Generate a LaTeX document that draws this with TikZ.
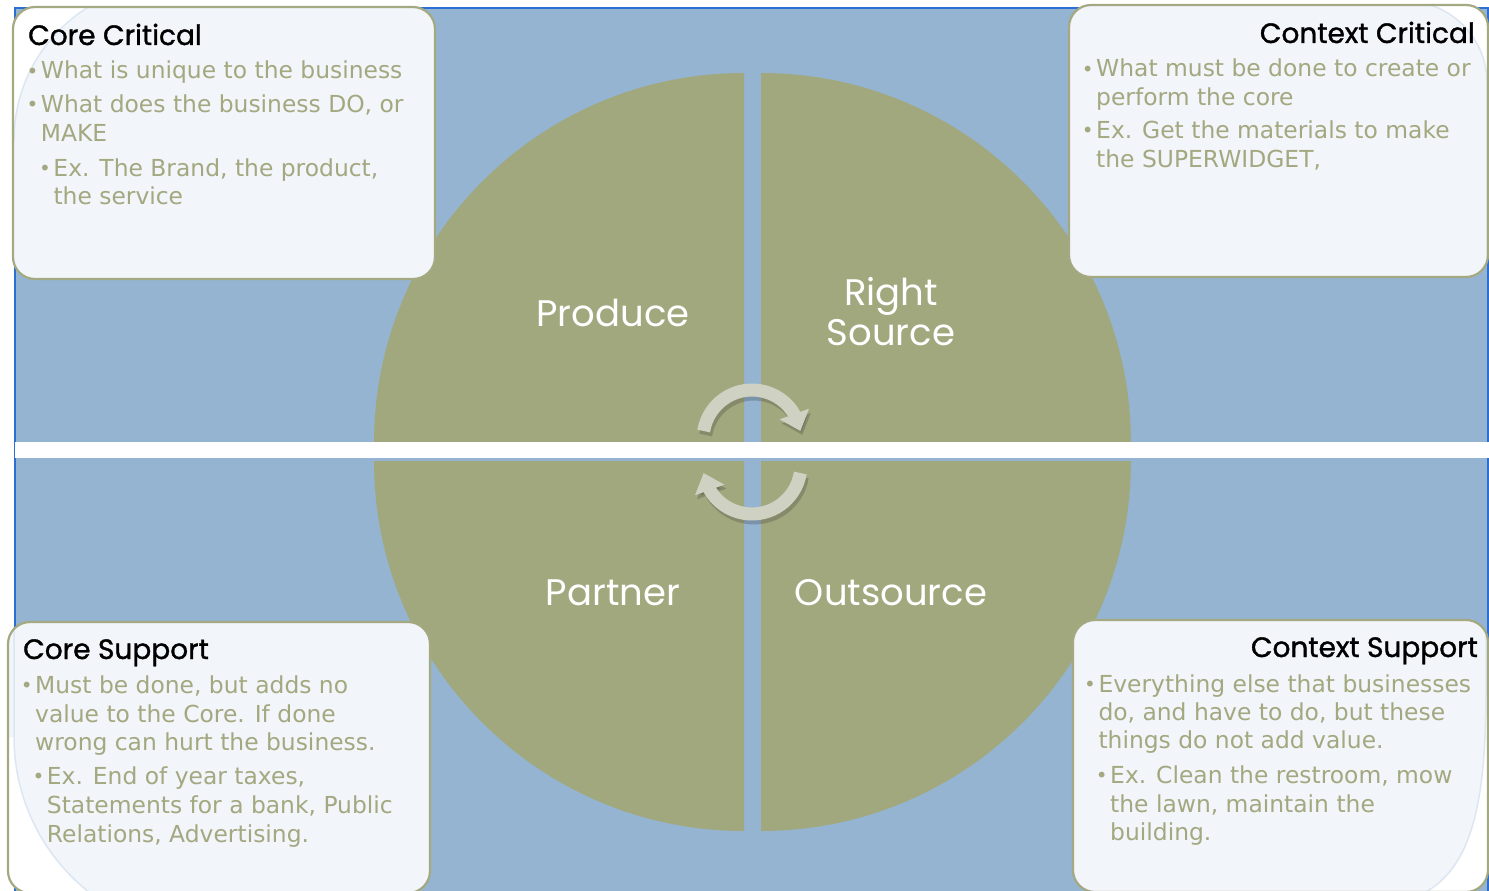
\documentclass[tikz,border=0pt]{standalone}
\usepackage{fontspec}
\usetikzlibrary{arrows.meta,bending}
\newfontfamily\bodyf{DejaVu Sans}
\newfontfamily\titlef{Poppins}
\newfontfamily\titleb[FakeBold=1.2]{Poppins}
\definecolor{bgblue}{HTML}{94B4D2}
\definecolor{edgeblue}{HTML}{2B6FD3}
\definecolor{olive}{HTML}{A2A87E}
\definecolor{boxedge}{HTML}{A4A982}
\definecolor{boxfill}{HTML}{F2F5F9}
\definecolor{arcblue}{HTML}{DCE7F3}
\definecolor{txtolive}{HTML}{A3A880}
\definecolor{arrowc}{HTML}{CFD2C2}
\tikzset{
  quad/.style={fill=olive},
  boxline/.style={draw=boxedge, line width=2.2pt, rounded corners=22pt},
  innerarc/.style={draw=arcblue, line width=1.5pt},
  ttl/.style={font=\titleb\fontsize{28}{30}\selectfont, text=black, inner sep=0pt},
  body/.style={font=\bodyf\fontsize{23.4}{28}\selectfont, text=txtolive, inner sep=0pt, anchor=base west},
  qlabel/.style={font=\titlef\fontsize{37}{40}\selectfont, text=white, inner sep=0pt, anchor=base},
  cyc/.style={draw=arrowc, line width=13pt, -{Triangle[length=18pt,width=30pt]}},
  cycshadow/.style={draw=black!80, opacity=0.25, line width=13pt, -{Triangle[length=18pt,width=30pt]}},
}
\newcommand\bul{\makebox[17pt][c]{\fontsize{20}{20}\selectfont\raisebox{0.5pt}{•}}}
\begin{document}
\begin{tikzpicture}[x=1pt,y=-1pt]
\useasboundingbox (0,0) rectangle (1489,891);
\fill[white] (0,0) rectangle (1489,891);
% background
\draw[fill=bgblue, draw=edgeblue, line width=2pt] (15,8) rectangle (1488,900);
% quadrants
\fill[quad] (744,443) -- (374,443) arc[start angle=180, end angle=270, radius=370] -- cycle;
\fill[quad] (761,443) -- (761,73) arc[start angle=270, end angle=360, radius=370] -- cycle;
\fill[quad] (744,461) -- (374,461) arc[start angle=180, end angle=90, radius=370] -- cycle;
\fill[quad] (761,461) -- (1131,461) arc[start angle=0, end angle=90, radius=370] -- cycle;
% white strip
\fill[white] (15,442) rectangle (1489,458);
% cycle arrows
\coordinate (t0) at (703.7,431);
\coordinate (b0) at (800.3,473);
\draw[cycshadow] ([shift={(2,4)}]t0) arc[start angle=-170.6, end angle=-9.4, radius=49];
\draw[cyc] (t0) arc[start angle=-170.6, end angle=-9.4, radius=49];
\draw[cycshadow] ([shift={(2,4)}]b0) arc[start angle=9.4, end angle=170.6, radius=49];
\draw[cyc] (b0) arc[start angle=9.4, end angle=170.6, radius=49];
% Core Critical box
\begin{scope}
  \clip[rounded corners=22pt] (13,7) rectangle (435,279);
  \fill[white] (0,0) rectangle (450,300);
  \fill[boxfill] (170,-20) -- (170,-16) arc[start angle=-90, end angle=-180, radius=156] -- (0,140) -- (0,300) -- (450,300) -- (450,-20) -- cycle;
  \draw[innerarc] (170,-16) arc[start angle=-90, end angle=-180, radius=156];
\end{scope}
\draw[boxline] (13,7) rectangle (435,279);
% Context Critical box
\begin{scope}
  \clip[rounded corners=22pt] (1069,5) rectangle (1488,277);
  \fill[white] (1060,0) rectangle (1500,300);
  \fill[boxfill] (1060,-10) -- (1405,-10) -- (1405,1) arc[start angle=-90, end angle=0, radius=82] -- (1500,83) -- (1500,300) -- (1060,300) -- cycle;
  \draw[innerarc] (1405,1) arc[start angle=-90, end angle=0, radius=82] -- (1487,300);
\end{scope}
\draw[boxline] (1069,5) rectangle (1488,277);
% Core Support box
\begin{scope}
  \clip[rounded corners=22pt] (8,622) rectangle (430,893);
  \fill[white] (0,600) rectangle (450,900);
  \fill[boxfill] (0,600) -- (0,737) -- (14,737) arc[start angle=180, end angle=90, radius=198] -- (212,950) -- (450,950) -- (450,600) -- cycle;
  \draw[innerarc] (14,600) -- (14,737) arc[start angle=180, end angle=90, radius=198];
\end{scope}
\draw[boxline] (8,622) rectangle (430,893);
% Context Support box
\begin{scope}
  \clip[rounded corners=22pt] (1073,620) rectangle (1488,892);
  \fill[white] (1060,600) rectangle (1500,900);
  \fill[boxfill] (1060,600) -- (1500,600) -- (1500,690) -- (1486,690) .. controls (1486,800) and (1473,870) .. (1420,895) -- (1420,910) -- (1060,910) -- cycle;
  \draw[innerarc] (1486,600) -- (1486,690) .. controls (1486,800) and (1473,870) .. (1420,895);
\end{scope}
\draw[boxline] (1073,620) rectangle (1488,892);
% titles
\node[ttl, anchor=base west] (ccT) at (28,45) {Core Critical};
\node[ttl, anchor=base east] (cxcT) at (1475,43) {Context Critical};
\node[ttl, anchor=base west] (csT) at (23,659) {Core Support};
\node[ttl, anchor=base east] (cxsT) at (1478,657) {Context Support};
% Core Critical text
\node[body] (cc1) at (23.7,79) {\bul What is unique to the business};
\node[body] (cc2) at (23.7,112) {\bul What does the business DO, or};
\node[body] (cc3) at (40.7,141) {MAKE};
\node[body] (cc4) at (36.3,176) {\bul Ex. The Brand, the product,};
\node[body] (cc5) at (53.3,204) {the service};
% Context Critical text
\node[body] (cx1) at (1079,77) {\bul What must be done to create or};
\node[body] (cx2) at (1096,105) {perform the core};
\node[body] (cx3) at (1079,138) {\bul Ex. Get the materials to make};
\node[body] (cx4) at (1096,167) {the SUPERWIDGET,};
% Core Support text
\node[body] (cs1) at (18,693) {\bul Must be done, but adds no};
\node[body] (cs2) at (35,722) {value to the Core. If done};
\node[body] (cs3) at (35,750) {wrong can hurt the business.};
\node[body] (cs4) at (29.7,784) {\bul Ex. End of year taxes,};
\node[body] (cs5) at (46.7,813) {Statements for a bank, Public};
\node[body] (cs6) at (46.7,842) {Relations, Advertising.};
% Context Support text
\node[body] (xs1) at (1081.3,692) {\bul Everything else that businesses};
\node[body] (xs2) at (1098.3,720) {do, and have to do, but these};
\node[body] (xs3) at (1098.3,748) {things do not add value.};
\node[body] (xs4) at (1093,783) {\bul Ex. Clean the restroom, mow};
\node[body] (xs5) at (1110,812) {the lawn, maintain the};
\node[body] (xs6) at (1110,840) {building.};
% quadrant labels
\node[qlabel] (produce) at (613,326) {Produce};
\node[qlabel] (right) at (891,305) {Right};
\node[qlabel] (source) at (891,345) {Source};
\node[qlabel] (partner) at (613,605) {Partner};
\node[qlabel] (outsource) at (891,605) {Outsource};
\end{tikzpicture}
\end{document}
